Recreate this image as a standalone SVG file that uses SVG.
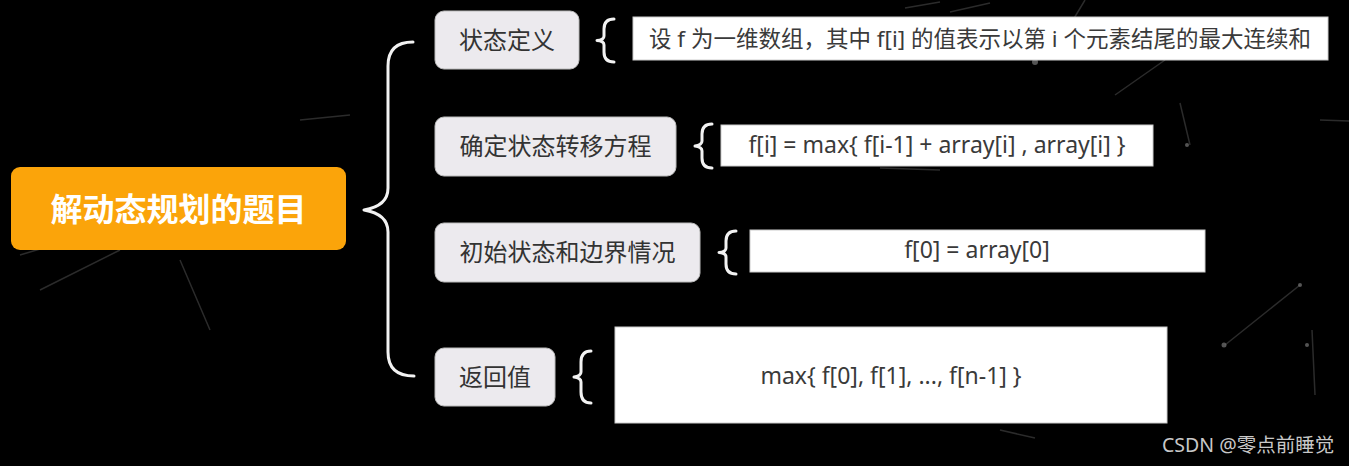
<svg xmlns="http://www.w3.org/2000/svg" width="1349" height="466" viewBox="0 0 1349 466">
<style>
.bg{fill:#000}
.deco{stroke:#555;stroke-width:1.5;opacity:.5;fill:none}
.dot{fill:#777;opacity:.7}
.root{fill:#FBA40A}
.roottxt{font-family:"Noto Sans CJK SC","Noto Sans",sans-serif;font-weight:bold;font-size:32px;fill:#fff;text-anchor:middle}
.child{fill:#ECEAEE;stroke:#bbb;stroke-width:1}
.childtxt{font-family:"Noto Sans CJK SC","Noto Sans",sans-serif;font-size:24px;fill:#333;text-anchor:middle}
.leaf{fill:#fff;stroke:#ccc;stroke-width:1}
.leaftxt{font-family:"Noto Sans","Noto Sans CJK SC",sans-serif;font-size:23px;fill:#3a3a3a}
.brace{fill:none;stroke:#f2f2f2;stroke-width:3;stroke-linecap:round;stroke-linejoin:round}
.wm{font-family:"Noto Sans","Noto Sans CJK SC",sans-serif;font-size:19.5px;fill:#c8c8c8}
</style>
<rect class="bg" x="0" y="0" width="1349" height="466"/>
<g id="background">
<path class="deco" d="M905 8 L940 2 M950 12 L990 3 M1085 0 L1070 25 M1165 60 L1115 95 M880 168 L940 170 M1180 103 L1190 145 M1320 120 L1349 121 M1225 345 L1300 285 M1315 395 L1312 330 M1000 430 L1035 438 M20 255 L70 240 M40 290 L120 250 M180 260 L210 330 M300 120 L350 115"/>
<circle class="dot" cx="1035" cy="62" r="3"/>
<circle class="dot" cx="1187" cy="145" r="2"/>
<circle class="dot" cx="1224" cy="345" r="2.5"/>
<circle class="dot" cx="1307" cy="345" r="2"/>
<circle class="dot" cx="1300" cy="285" r="2"/>
</g>
<g id="connectors">
<path class="brace" d="M413 42 Q388 42 388 66 L388 188 Q388 206 364 210 Q388 214 388 232 L388 352 Q388 376 414 376"/>
<path class="brace" d="M614 19 Q604 19 604 29 L604 36 Q604 40 597 40.5 Q604 41 604 45 L604 52 Q604 62 614 62"/>
<path class="brace" d="M712 124 Q702 124 702 134 L702 141 Q702 145 695 146 Q702 147 702 151 L702 158 Q702 168 712 168"/>
<path class="brace" d="M736 231 Q726 231 726 241 L726 248 Q726 252 719 252.5 Q726 253 726 257 L726 264 Q726 274 736 274"/>
<path class="brace" d="M591 351 Q581 351 581 362 L581 372 Q581 376 574 377 Q581 378 581 382 L581 392 Q581 403 591 403"/>
</g>
<g id="root">
<rect class="root" x="11" y="167" width="335" height="83" rx="9"/>
<text class="roottxt" x="178.5" y="221">解动态规划的题目</text>
</g>
<g id="n1">
<rect class="child" x="435" y="11" width="144" height="58" rx="9"/>
<text class="childtxt" x="507" y="49">状态定义</text>
</g>
<g id="n2">
<rect class="child" x="435" y="117" width="241" height="59" rx="9"/>
<text class="childtxt" x="555.5" y="155">确定状态转移方程</text>
</g>
<g id="n3">
<rect class="child" x="435" y="223" width="265" height="59" rx="9"/>
<text class="childtxt" x="567.5" y="261">初始状态和边界情况</text>
</g>
<g id="n4">
<rect class="child" x="435" y="348" width="120" height="58" rx="9"/>
<text class="childtxt" x="495" y="386">返回值</text>
</g>
<g id="l1">
<rect class="leaf" x="633" y="17" width="695" height="43"/>
<text class="leaftxt" x="649" y="47" style="font-size:22.5px">设 f 为一维数组，其中 f[i] 的值表示以第 i 个元素结尾的最大连续和</text>
</g>
<g id="l2">
<rect class="leaf" x="721" y="125" width="432" height="41"/>
<text class="leaftxt" x="937" y="153" text-anchor="middle">f[i] = max{ f[i-1] + array[i] , array[i] }</text>
</g>
<g id="l3">
<rect class="leaf" x="750" y="230" width="455" height="42"/>
<text class="leaftxt" x="977" y="258" text-anchor="middle">f[0] = array[0]</text>
</g>
<g id="l4">
<rect class="leaf" x="615" y="327" width="552" height="96"/>
<text class="leaftxt" x="891" y="384" text-anchor="middle">max{ f[0], f[1], ..., f[n-1] }</text>
</g>
<text class="wm" x="1162" y="452">CSDN @零点前睡觉</text>
</svg>
